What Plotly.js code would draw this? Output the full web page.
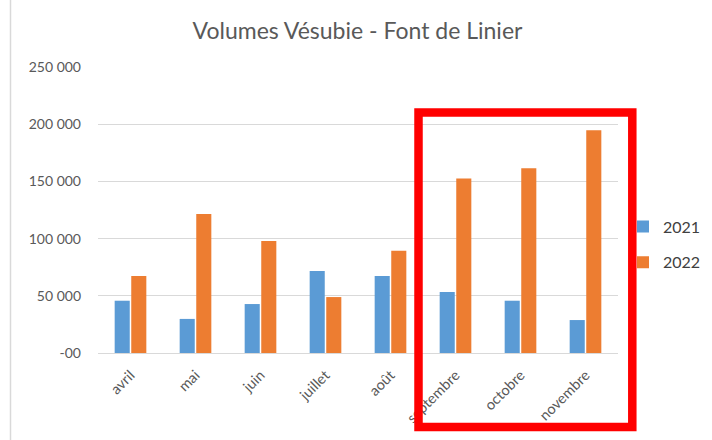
<!DOCTYPE html>
<html>
<head>
<meta charset="utf-8">
<script src="https://cdn.plot.ly/plotly-3.0.1.min.js"></script>
<style>html,body{margin:0;padding:0;background:#fff;}#chart{width:712px;height:440px;}</style>
</head>
<body>
<div id="chart"></div>
<script>
const months = ['avril', 'mai', 'juin', 'juillet', 'août', 'septembre', 'octobre', 'novembre'];
const values2021 = [45700, 29800, 42800, 71600, 67200, 53300, 45700, 28800];
const values2022 = [67200, 121400, 97800, 48900, 89300, 152500, 161600, 194700];
const seriesNames = ['2021', '2022'];
const yTickVals = [0, 50000, 100000, 150000, 200000, 250000];
const yTickText = ['-00', '50 000', '100 000', '150 000', '200 000', '250 000'];
const chartTitle = 'Volumes Vésubie - Font de Linier';

const W = 712, H = 440;
const M = {l: 98, r: 94, t: 67, b: 87, autoexpand: false};
const PW = W - M.l - M.r, PH = H - M.t - M.b;
const px = x => (x - M.l) / PW;
const py = y => (H - M.b - y) / PH;

const FONT = 'Lato, "Open Sans", sans-serif';
const traces = [
  {type: 'bar', x: months, y: values2021, name: seriesNames[0], legendgroup: 'a',
   marker: {color: '#5B9BD5', line: {width: 0}}, hoverinfo: 'y'},
  {type: 'bar', x: months, y: values2022, name: seriesNames[1], legendgroup: 'b',
   marker: {color: '#ED7D31', line: {width: 0}}, hoverinfo: 'y'}
];

const layout = {
  width: W, height: H,
  margin: M,
  paper_bgcolor: '#ffffff', plot_bgcolor: '#ffffff',
  font: {family: FONT, color: '#595959', size: 14},
  title: {text: chartTitle, x: px(357.5), xanchor: 'center', xref: 'paper', y: 1 - 31 / H, yanchor: 'middle',
          font: {family: FONT, size: 23, color: '#595959'}},
  barmode: 'group', bargap: 0.49, bargroupgap: 0.09,
  xaxis: {type: 'category', tickangle: -45, showgrid: false, zeroline: false,
          showline: false, ticks: '', ticklabelstandoff: 10,
          tickfont: {family: FONT, size: 14.5, color: '#595959'}},
  yaxis: {range: [0, 250000], tickvals: yTickVals, ticktext: yTickText,
          showgrid: true, gridcolor: '#d9d9d9', gridwidth: 1.3, zeroline: true,
          zerolinecolor: '#d9d9d9', zerolinewidth: 1.3, showline: false, ticks: '',
          ticklabelstandoff: 16,
          tickfont: {family: FONT, size: 14, color: '#595959'}},
  showlegend: true,
  legend: {x: px(623), xanchor: 'left', y: py(244.5), yanchor: 'middle',
           traceorder: 'grouped', tracegroupgap: 12,
           font: {family: FONT, size: 16, color: '#404040'}, bgcolor: 'rgba(0,0,0,0)'},
  shapes: [
    {type: 'line', xref: 'paper', yref: 'paper', x0: px(10.5), x1: px(10.5), y0: py(0), y1: py(H),
     line: {color: '#d9d9d9', width: 1.5}},
    {type: 'rect', xref: 'paper', yref: 'paper', x0: px(418.5), x1: px(632.3), y0: py(427), y1: py(112.5),
     line: {color: '#FF0000', width: 8.5}, fillcolor: 'rgba(0,0,0,0)', layer: 'above'}
  ]
};

Plotly.newPlot('chart', traces, layout, {displayModeBar: false, responsive: false});
</script>
</body>
</html>
